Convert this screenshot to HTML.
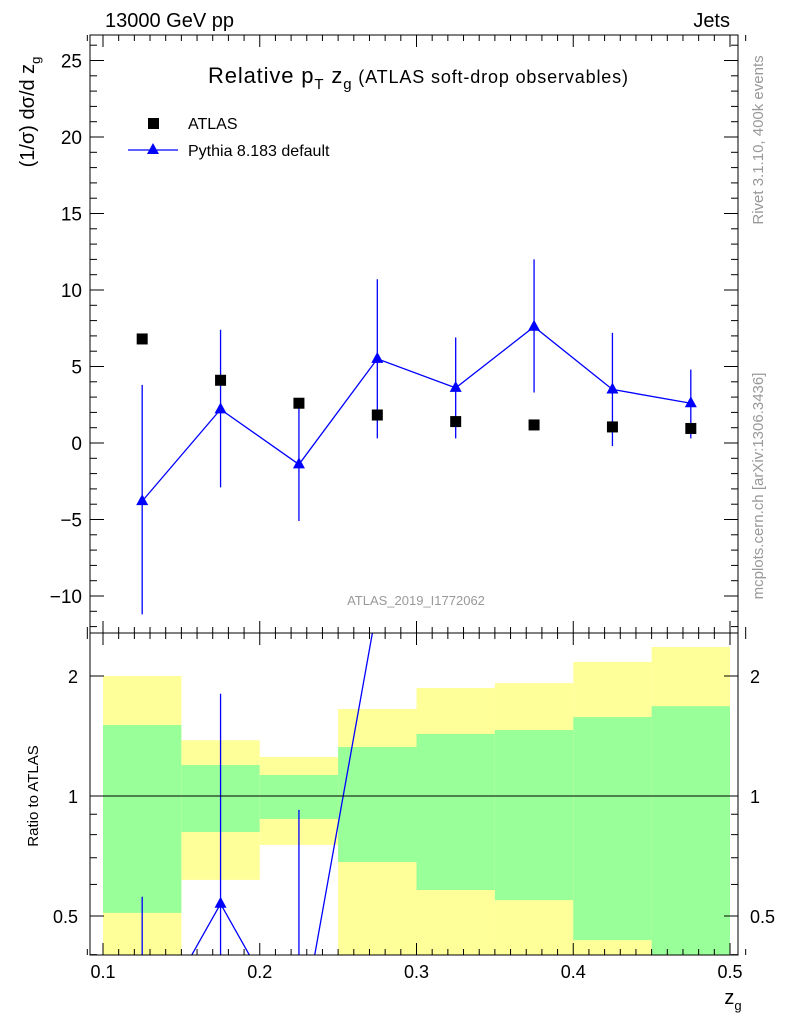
<!DOCTYPE html>
<html><head><meta charset="utf-8"><style>
body{margin:0;background:#fff;}
svg text{font-family:"Liberation Sans",sans-serif;}
</style></head><body>
<svg id="chart" width="786" height="1024" xmlns="http://www.w3.org/2000/svg">
<defs>
<clipPath id="cm"><rect x="90" y="35" width="648" height="598"/></clipPath>
<clipPath id="cr"><rect x="90" y="633" width="648" height="322"/></clipPath>
</defs>
<g id="bands"></g>
<g id="marks"></g>
<g id="axes"></g>
<text x="105" y="27" font-size="20">13000 GeV pp</text>
<text x="730" y="27" font-size="20" text-anchor="end">Jets</text>
<text x="418" y="83" font-size="22" text-anchor="middle" textLength="420" lengthAdjust="spacing">Relative p<tspan font-size="15" dy="6">T</tspan><tspan dy="-6"> z</tspan><tspan font-size="15" dy="6">g</tspan><tspan font-size="18" dy="-6"> (ATLAS soft-drop observables)</tspan></text>
<rect x="148" y="118" width="11" height="11" fill="#000"/>
<text x="188" y="129" font-size="16">ATLAS</text>
<line x1="128" y1="150" x2="178" y2="150" stroke="#00f" stroke-width="1.3"/>
<polygon points="153,143 159,154 147,154" fill="#00f"/>
<text x="188" y="156" font-size="16">Pythia 8.183 default</text>
<text x="416" y="605" font-size="13" fill="#999" text-anchor="middle">ATLAS_2019_I1772062</text>
<text transform="translate(34,112) rotate(-90)" font-size="20" text-anchor="middle">(1/σ) dσ/d z<tspan font-size="13" dy="6">g</tspan></text>
<text transform="translate(38,796) rotate(-90)" font-size="15" text-anchor="middle">Ratio to ATLAS</text>
<text x="733" y="1004" font-size="20" text-anchor="middle">z<tspan font-size="13" dy="6">g</tspan></text>
<text transform="translate(763,140) rotate(-90)" font-size="15" fill="#999" text-anchor="middle">Rivet 3.1.10,  400k events</text>
<text transform="translate(763,486) rotate(-90)" font-size="15" fill="#999" text-anchor="middle">mcplots.cern.ch [arXiv:1306.3436]</text>
</svg>
<script>
const edges=[0.1,0.15,0.2,0.25,0.3,0.35,0.4,0.45,0.5];
const centers=[0.125,0.175,0.225,0.275,0.325,0.375,0.425,0.475];
const atlas=[6.8,4.1,2.6,1.83,1.4,1.18,1.05,0.95];
const pythia=[-3.8,2.2,-1.4,5.5,3.6,7.6,3.5,2.6];
const pyUp=[3.8,7.4,2.4,10.7,6.9,12.0,7.2,4.8];
const pyDown=[-11.2,-2.9,-5.1,0.3,0.3,3.3,-0.2,0.3];
const yellowHi=[2.0,1.38,1.253,1.653,1.866,1.92,2.17,2.365];
const greenHi=[1.507,1.196,1.129,1.327,1.431,1.464,1.578,1.68];
const greenLo=[0.509,0.812,0.876,0.683,0.581,0.548,0.435,0.3];
const yellowLo=[0.3,0.616,0.754,0.3,0.3,0.3,0.3,0.3];
const mainTicks=[-10,-5,0,5,10,15,20,25];
const xTicks=[0.1,0.2,0.3,0.4,0.5];
const ratioTicks=[0.5,1,2];
const NS="http://www.w3.org/2000/svg";
const X=v=>103+(v-0.1)/0.4*627;
const Y=v=>443-v*15.3;
const R=v=>796-Math.log2(Math.max(v,0.24))*120;
const RMAX=2.4,RMIN=0.4;
function mk(tag,attrs,parent){const e=document.createElementNS(NS,tag);for(const k in attrs)e.setAttribute(k,attrs[k]);parent.appendChild(e);return e;}
const bands=document.getElementById('bands'),marks=document.getElementById('marks'),axes=document.getElementById('axes');
bands.setAttribute('clip-path','url(#cr)');
for(let i=0;i<centers.length;i++){
 const x1=X(edges[i]),x2=X(edges[i+1]);
 let e=mk('rect',{x:x1,y:R(yellowHi[i]),width:x2-x1,height:R(yellowLo[i])-R(yellowHi[i]),fill:'#ffff99'},bands);
 
 
 e=mk('rect',{x:x1,y:R(greenHi[i]),width:x2-x1,height:R(greenLo[i])-R(greenHi[i]),fill:'#99ff99'},bands);
 
 
}
mk('line',{x1:90,x2:738,y1:R(1),y2:R(1),stroke:'#000','stroke-width':1},axes);
const gm=mk('g',{'clip-path':'url(#cm)'},marks);
let pts=centers.map((c,i)=>X(c)+','+Y(pythia[i])).join(' ');
let pl=mk('polyline',{points:pts,fill:'none',stroke:'#00f','stroke-width':1.3},gm);


centers.forEach((c,i)=>{
 let e=mk('line',{x1:X(c),x2:X(c),y1:Y(pyUp[i]),y2:Y(pyDown[i]),stroke:'#00f','stroke-width':1.3},gm);
 
 
 const x=X(c),y=Y(pythia[i]);
 e=mk('polygon',{points:`${x},${y-7} ${x+6},${y+4} ${x-6},${y+4}`,fill:'#00f'},gm);
 
 
 e=mk('rect',{x:x-5.5,y:Y(atlas[i])-5.5,width:11,height:11,fill:'#000'},gm);
 
 
});
const gr=mk('g',{'clip-path':'url(#cr)'},marks);
pts=centers.map((c,i)=>X(c)+','+R(pythia[i]/atlas[i])).join(' ');
pl=mk('polyline',{points:pts,fill:'none',stroke:'#00f','stroke-width':1.3},gr);


centers.forEach((c,i)=>{
 const r=pythia[i]/atlas[i];
 if(r>RMAX) return;
 let e=mk('line',{x1:X(c),x2:X(c),y1:R(pyUp[i]/atlas[i]),y2:R(pyDown[i]/atlas[i]),stroke:'#00f','stroke-width':1.3},gr);
 
 
 if(r>RMIN){const x=X(c),y=R(r);
 e=mk('polygon',{points:`${x},${y-7} ${x+6},${y+4} ${x-6},${y+4}`,fill:'#00f'},gr);
 
 }
});
let f=mk('rect',{x:90,y:35,width:648,height:598,fill:'none',stroke:'#000','stroke-width':1},axes);

f=mk('rect',{x:90,y:633,width:648,height:322,fill:'none',stroke:'#000','stroke-width':1},axes);

function tk(x1,y1,x2,y2){mk('line',{x1,y1,x2,y2,stroke:'#000','stroke-width':1},axes);}
for(let v=0.09;v<=0.5101;v+=0.01){const x=X(v),maj=Math.abs(v*10-Math.round(v*10))<1e-6,L=maj?12:6;
 tk(x,633,x,633-L);tk(x,35,x,35+L);tk(x,955,x,955-L);tk(x,633,x,633+L);}
xTicks.forEach(v=>{const t=mk('text',{x:X(v),y:978,'font-size':18,'text-anchor':'middle'},axes);t.textContent=String(v);
 });
for(let v=-12;v<=26;v++){const y=Y(v),maj=v%5===0,L=maj?14:7;tk(90,y,90+L,y);tk(738,y,738-L,y);}
mainTicks.forEach(v=>{const t=mk('text',{x:82,y:Y(v)+7,'font-size':19,'text-anchor':'end'},axes);t.textContent=v<0?'\u2212'+(-v):String(v);
 });
[0.4,0.5,0.6,0.7,0.8,0.9,1,2].forEach(v=>{const y=R(v),maj=ratioTicks.includes(v),L=maj?14:7;tk(90,y,90+L,y);tk(738,y,738-L,y);});
ratioTicks.forEach(v=>{let t=mk('text',{x:78,y:R(v)+7,'font-size':18,'text-anchor':'end'},axes);t.textContent=String(v);
 
 t=mk('text',{x:750,y:R(v)+7,'font-size':18},axes);t.textContent=String(v);
 });
</script>
</body></html>
